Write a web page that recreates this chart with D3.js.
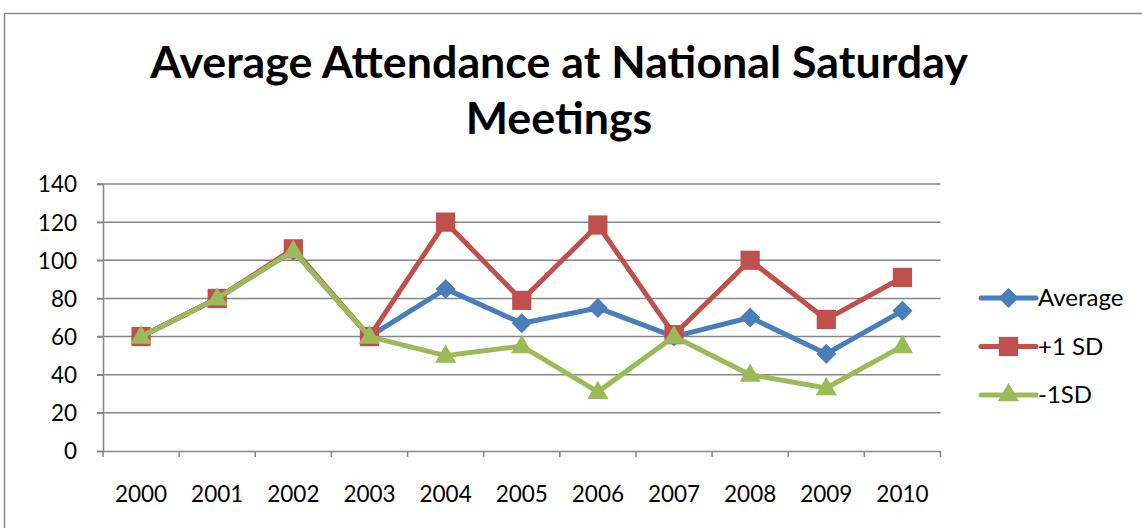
<!DOCTYPE html>
<html>
<head>
<meta charset="utf-8">
<script src="https://cdn.jsdelivr.net/npm/d3@7"></script>
<style>
  body { margin: 0; background: #fff; }
  svg { display: block; font-family: Lato, "Open Sans", sans-serif; }
</style>
</head>
<body>
<svg width="1142" height="528"></svg>
<script>
const years = ["2000", "2001", "2002", "2003", "2004", "2005", "2006", "2007", "2008", "2009", "2010"];
const average = [60, 80, 105, 60, 85, 67, 75, 60, 70, 51, 73.5];
const plusSD = [60, 80, 106, 60, 120, 79, 118.5, 61, 100, 69, 91];
const minusSD = [60, 80, 105, 60, 50, 55, 31, 60, 40, 33, 55];
const yTicks = [0, 20, 40, 60, 80, 100, 120, 140];

// diamond drawn as a square turned 45 degrees (Excel style, as wide as tall)
const diamond = {
    draw(ctx, size) {
        let r = Math.sqrt(size / 2);
        ctx.moveTo(0, -r);
        ctx.lineTo(r, 0);
        ctx.lineTo(0, r);
        ctx.lineTo(-r, 0);
        ctx.closePath();
    }
};

const seriesList = [
    {name: "Average", values: average, color: "#4A7EBB", shape: diamond, size: 200},
    {name: "+1 SD", values: plusSD, color: "#C0504D", shape: d3.symbolSquare, size: 370},
    {name: "-1SD", values: minusSD, color: "#9BBB59", shape: d3.symbolTriangle, size: 195}
];

let svg = d3.select("svg");

let pLeft = 103, pRight = 940.5, pTop = 184, pBottom = 451;

// outer frame
svg.append("rect")
    .attr("x", 4.5).attr("y", 13.5)
    .attr("width", 1160).attr("height", 540)
    .attr("fill", "none")
    .attr("stroke", "#8c8c8c")
    .attr("stroke-width", 1.5);

// title
let title = svg.append("text")
    .attr("text-anchor", "middle")
    .attr("font-weight", "bold")
    .attr("fill", "#000");
title.append("tspan").attr("x", 559).attr("y", 78).text("Average Attendance at National Saturday");
title.append("tspan").attr("x", 559).attr("y", 134).text("Meetings");
// fit title width to the reference
title.attr("font-size", 40);
let tw = title.select("tspan").node().getComputedTextLength();
title.attr("font-size", 40 * 818 / tw);

let xScale = d3.scaleBand()
    .domain(years)
    .range([pLeft, pRight]);

let yScale = d3.scaleLinear()
    .domain([0, 140])
    .range([pBottom, pTop]);

// gridlines
svg.append("g")
    .selectAll("line")
    .data(yTicks.filter(t => t > 0))
    .enter()
    .append("line")
    .attr("x1", pLeft - 6).attr("x2", pRight)
    .attr("y1", d => yScale(d)).attr("y2", d => yScale(d))
    .attr("stroke", "#868686")
    .attr("stroke-width", 1.5);

let yAxis = d3.axisLeft(yScale)
    .tickValues(yTicks)
    .tickSize(6)
    .tickPadding(20);
let gy = svg.append("g")
    .attr("transform", "translate(" + pLeft + ",0)")
    .call(yAxis);

let xAxis = d3.axisBottom(xScale)
    .tickSize(0)
    .tickPadding(51);
let gx = svg.append("g")
    .attr("transform", "translate(0," + pBottom + ")")
    .call(xAxis);

// x tick marks on band edges
gx.selectAll(".edge")
    .data(years.concat(["end"]))
    .enter()
    .append("line")
    .attr("class", "edge")
    .attr("x1", (d, i) => pLeft + i * xScale.step())
    .attr("x2", (d, i) => pLeft + i * xScale.step())
    .attr("y1", 0).attr("y2", 6)
    .attr("stroke", "#868686")
    .attr("stroke-width", 1.5);

[gx, gy].forEach(g => {
    g.selectAll(".domain").attr("stroke", "#868686").attr("stroke-width", 1.5);
    g.selectAll(".tick line").attr("stroke", "#868686").attr("stroke-width", 1.5);
    g.selectAll("text")
        .attr("font-size", 22.5)
        .attr("font-family", "Lato, sans-serif")
        .attr("fill", "#000");
});
gx.selectAll(".tick text").attr("dy", 0);
gy.selectAll(".tick text").attr("dy", "0.35em");

let cx = (d, i) => xScale(years[i]) + xScale.bandwidth() / 2;

let line = d3.line()
    .x(cx)
    .y(d => yScale(d));

seriesList.forEach(s => {
    svg.append("path")
        .datum(s.values)
        .attr("d", line)
        .attr("fill", "none")
        .attr("stroke", s.color)
        .attr("stroke-width", 5)
        .attr("stroke-linejoin", "round");
    svg.append("g")
        .selectAll("path")
        .data(s.values)
        .enter()
        .append("path")
        .attr("d", d3.symbol().type(s.shape).size(s.size))
        .attr("transform", (d, i) => "translate(" + cx(d, i) + "," + (yScale(d) + (s.shape === d3.symbolTriangle ? 1 : 0)) + ")")
        .attr("fill", s.color);
});

// legend
let legend = svg.append("g")
    .selectAll("g")
    .data(seriesList)
    .enter()
    .append("g")
    .attr("transform", (d, i) => "translate(981," + (298 + i * 48.5) + ")");

legend.append("line")
    .attr("x1", 0).attr("x2", 55)
    .attr("stroke", d => d.color)
    .attr("stroke-width", 5)
    .attr("stroke-linecap", "round");
legend.append("path")
    .attr("d", d => d3.symbol().type(d.shape).size(d.size)())
    .attr("transform", "translate(27.5,0)")
    .attr("fill", d => d.color);
legend.append("text")
    .attr("x", 57)
    .attr("dy", "0.35em")
    .attr("font-size", 24)
    .attr("fill", "#000")
    .text(d => d.name);
</script>
</body>
</html>
